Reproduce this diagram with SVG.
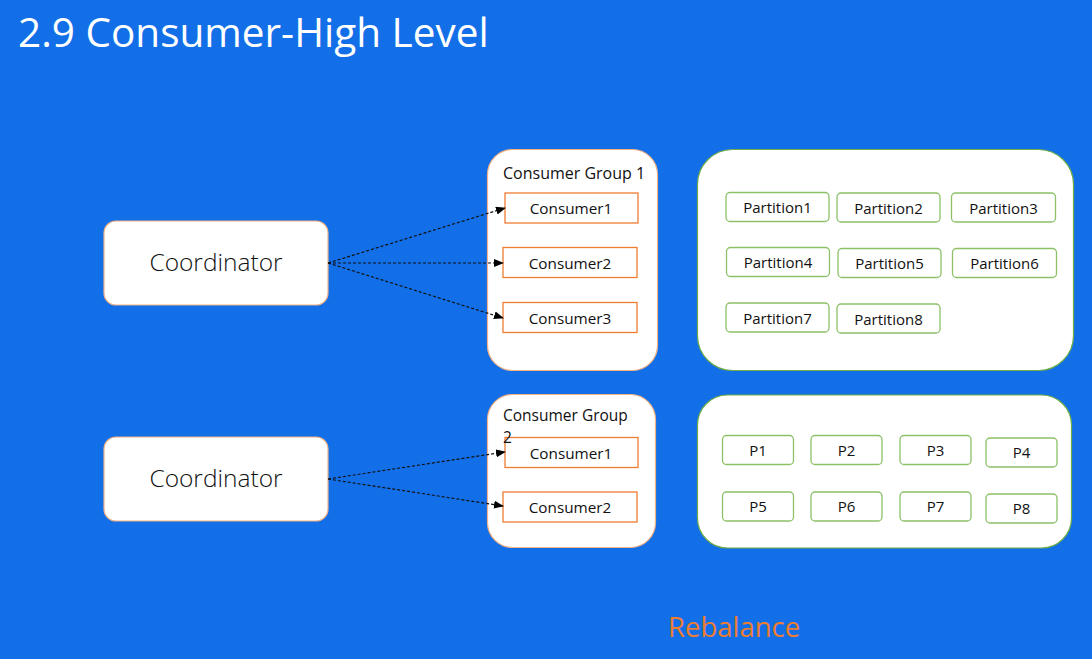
<svg xmlns="http://www.w3.org/2000/svg" width="1092" height="659" viewBox="0 0 1092 659">
<defs>
<marker id="ah" markerWidth="10" markerHeight="8" refX="9" refY="4" orient="auto" markerUnits="userSpaceOnUse">
<path d="M0,0 L10,4 L0,8 Z" fill="#000"/>
</marker>
<style>
.t{font-family:"Open Sans","Noto Sans","Liberation Sans",sans-serif;}
.coord{fill:#fff;stroke:#F4B183;stroke-width:1.2;}
.grp{fill:#fff;stroke:#F4B183;stroke-width:1.2;}
.cons{fill:#fff;stroke:#ED7D31;stroke-width:1.3;}
.pgrp{fill:#fff;stroke:#70AD47;stroke-width:1.2;}
.part{fill:#fff;stroke:#8CC168;stroke-width:1.3;}
.lbl{font-size:15.3px;fill:#111;text-anchor:middle;}
.plbl{font-size:15px;fill:#111;text-anchor:middle;}
.big{font-size:24.5px;fill:#111;text-anchor:middle;font-weight:300;}
.conn{stroke:#111;stroke-width:1.2;stroke-dasharray:3,2;fill:none;marker-end:url(#ah);}
</style>
</defs>
<rect width="1092" height="659" fill="#136FE8"/>
<text class="t" x="18" y="47" font-size="40.5" fill="#fff">2.9 Consumer-High Level</text>

<g id="coordinator1">
<rect class="coord" x="104" y="221" width="224" height="84" rx="12"/>
<text class="t big" x="216" y="271">Coordinator</text>
</g>
<g id="group1">
<rect class="grp" x="487.5" y="149.5" width="170" height="221" rx="25"/>
<text class="t" x="503" y="179" font-size="16" fill="#111">Consumer Group 1</text>
</g>
<g id="g1-consumer1"><rect class="cons" x="505" y="193" width="133" height="30"/><text class="t lbl" x="571" y="214">Consumer1</text></g>
<g id="g1-consumer2"><rect class="cons" x="503" y="247.5" width="134" height="30"/><text class="t lbl" x="570" y="269">Consumer2</text></g>
<g id="g1-consumer3"><rect class="cons" x="503" y="302.5" width="134" height="30"/><text class="t lbl" x="570" y="324">Consumer3</text></g>

<g id="partitions1">
<rect class="pgrp" x="697.5" y="149.5" width="376" height="221" rx="35"/>
</g>
<g id="p1-1"><rect class="part" x="726" y="192.5" width="103" height="29" rx="4"/><text class="t plbl" x="777.5" y="213">Partition1</text></g>
<g id="p1-2"><rect class="part" x="837" y="193" width="103" height="29" rx="4"/><text class="t plbl" x="888.5" y="214">Partition2</text></g>
<g id="p1-3"><rect class="part" x="951.5" y="193" width="104" height="29" rx="4"/><text class="t plbl" x="1003.5" y="214">Partition3</text></g>
<g id="p1-4"><rect class="part" x="726.5" y="247.5" width="103" height="29" rx="4"/><text class="t plbl" x="778" y="268">Partition4</text></g>
<g id="p1-5"><rect class="part" x="838" y="248.5" width="103" height="29" rx="4"/><text class="t plbl" x="889.5" y="269">Partition5</text></g>
<g id="p1-6"><rect class="part" x="952.5" y="248.5" width="104" height="29" rx="4"/><text class="t plbl" x="1004.5" y="269">Partition6</text></g>
<g id="p1-7"><rect class="part" x="726" y="303" width="103" height="29" rx="4"/><text class="t plbl" x="777.5" y="324">Partition7</text></g>
<g id="p1-8"><rect class="part" x="837" y="304" width="103" height="29" rx="4"/><text class="t plbl" x="888.5" y="325">Partition8</text></g>

<g id="coordinator2">
<rect class="coord" x="104" y="437" width="224" height="84" rx="12"/>
<text class="t big" x="216" y="487">Coordinator</text>
</g>
<g id="group2">
<rect class="grp" x="487.5" y="394.5" width="168" height="153" rx="25"/>
</g>
<g id="g2-consumer1"><rect class="cons" x="505" y="437.5" width="133" height="30"/><text class="t lbl" x="571" y="459">Consumer1</text></g>
<g id="g2-consumer2"><rect class="cons" x="503" y="492" width="134" height="30"/><text class="t lbl" x="570" y="513">Consumer2</text></g>
<g id="group2-label">
<text class="t" x="503" y="420.5" font-size="15.5" fill="#111">Consumer Group</text>
<text class="t" x="503" y="443" font-size="15.5" fill="#111">2</text>
</g>

<g id="partitions2">
<rect class="pgrp" x="697.5" y="395" width="374" height="153" rx="30"/>
</g>
<g id="p2-1"><rect class="part" x="722.5" y="435.5" width="71" height="29" rx="4"/><text class="t plbl" x="758" y="456">P1</text></g>
<g id="p2-2"><rect class="part" x="811" y="435.5" width="71" height="29" rx="4"/><text class="t plbl" x="846.5" y="456">P2</text></g>
<g id="p2-3"><rect class="part" x="900" y="435.5" width="71" height="29" rx="4"/><text class="t plbl" x="935.5" y="456">P3</text></g>
<g id="p2-4"><rect class="part" x="986" y="438" width="71" height="29" rx="4"/><text class="t plbl" x="1021.5" y="458">P4</text></g>
<g id="p2-5"><rect class="part" x="722.5" y="492" width="71" height="29" rx="4"/><text class="t plbl" x="758" y="512">P5</text></g>
<g id="p2-6"><rect class="part" x="811" y="492" width="71" height="29" rx="4"/><text class="t plbl" x="846.5" y="512">P6</text></g>
<g id="p2-7"><rect class="part" x="900" y="492" width="71" height="29" rx="4"/><text class="t plbl" x="935.5" y="512">P7</text></g>
<g id="p2-8"><rect class="part" x="986" y="494" width="71" height="29" rx="4"/><text class="t plbl" x="1021.5" y="514">P8</text></g>

<g id="connectors">
<line class="conn" x1="328" y1="263" x2="505" y2="208"/>
<line class="conn" x1="328" y1="263" x2="503" y2="263"/>
<line class="conn" x1="328" y1="263" x2="503" y2="318"/>
<line class="conn" x1="328" y1="479" x2="505" y2="452"/>
<line class="conn" x1="328" y1="479" x2="503" y2="506"/>
</g>

<text class="t" x="668" y="637" font-size="27.5" fill="#ED7D31">Rebalance</text>
</svg>
